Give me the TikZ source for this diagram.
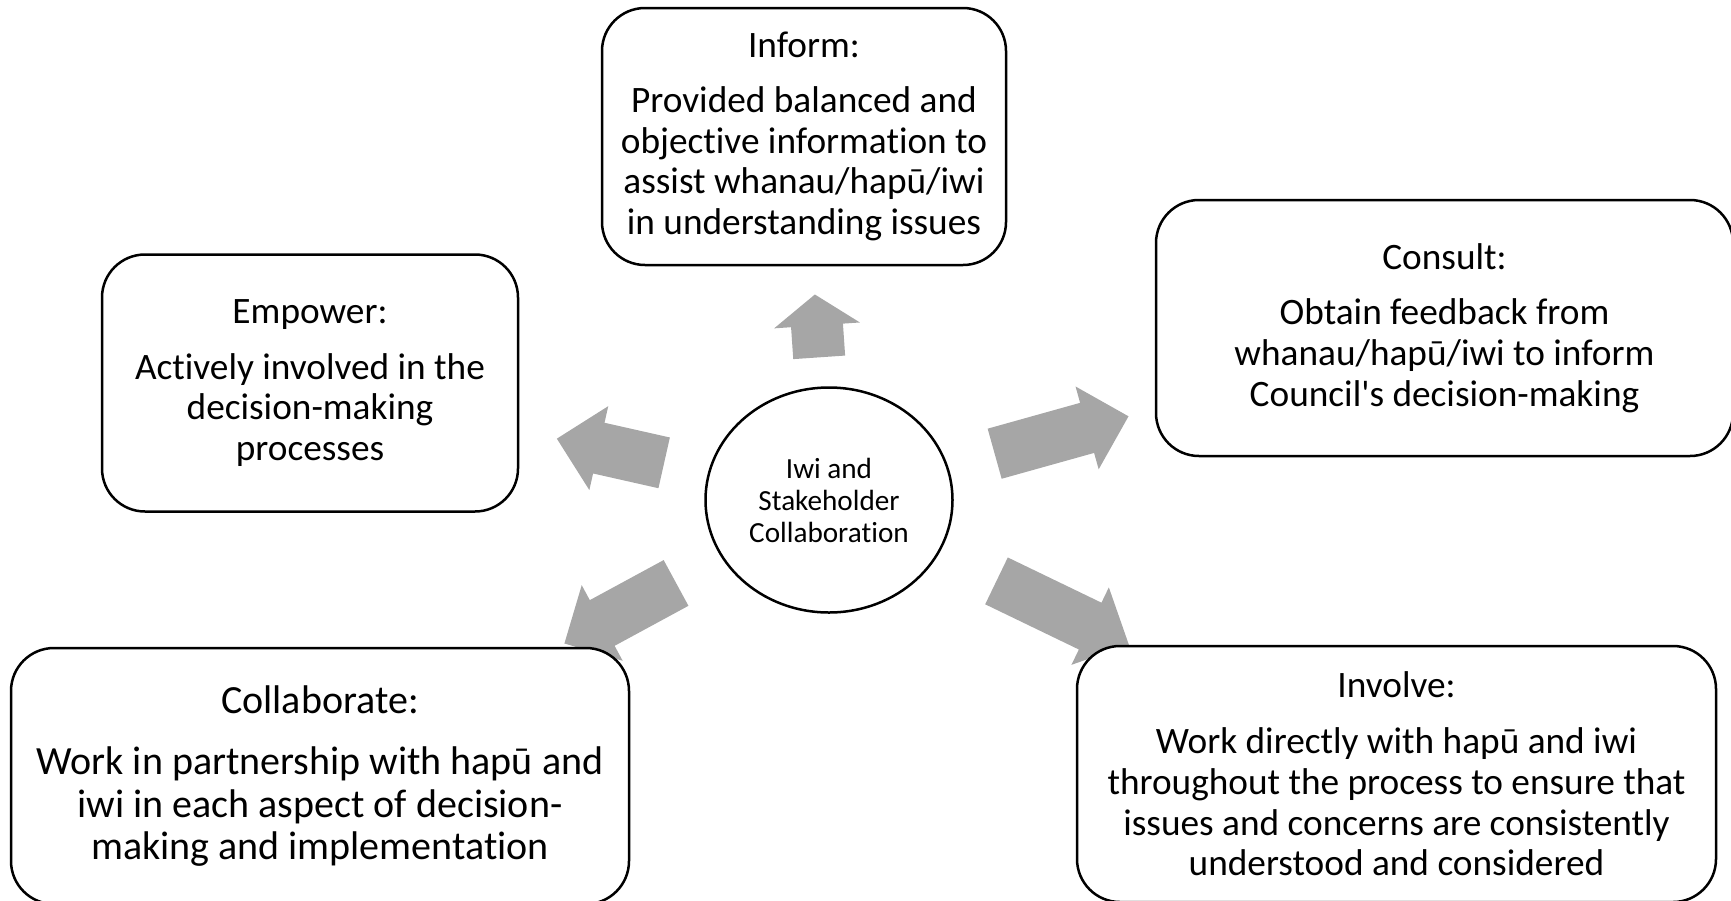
\documentclass[tikz,border=0pt]{standalone}
\usepackage{fontspec}
\setmainfont{Carlito}[Ligatures={TeXOff,NoCommon}]
\usetikzlibrary{calc,backgrounds,shapes.geometric}
\newcommand\bodyfont{\fontsize{37.3pt}{40.8pt}\selectfont}
\newcommand\bigbodyfont{\fontsize{40pt}{42.5pt}\selectfont}
\newcommand\hubfont{\fontsize{29.2pt}{32pt}\selectfont}
\definecolor{arrowgray}{HTML}{A6A6A6}
% block arrow: #1 rear centre, #2 tip, #3 head length
\newcommand{\blockarrow}[3]{%
  \coordinate (hb) at ($(#2)!#3!(#1)$);
  \fill[arrowfill] ($(#1)!26pt!90:(#2)$) -- ($(hb)!26pt!-90:(#1)$) -- ($(hb)!43pt!-90:(#1)$) -- (#2)
    -- ($(hb)!43pt!90:(#1)$) -- ($(hb)!26pt!90:(#1)$) -- ($(#1)!26pt!-90:(#2)$) -- cycle;
}
\begin{document}
\begin{tikzpicture}[x=1pt,y=-1pt,
  box/.style={draw=black, line width=2.5pt, fill=white, rounded corners=43pt,
    align=center, font=\bodyfont, inner sep=0pt},
  hub/.style={draw=black, line width=2.5pt, fill=white, ellipse, minimum width=247pt,
    minimum height=225pt, inner sep=0pt, align=center, font=\hubfont},
  arrowfill/.style={fill=arrowgray}]
\useasboundingbox (0,0) rectangle (1731,900);
\node[hub] (c) at (829,500) {Iwi and\\Stakeholder\\Collaboration};
\node[box, minimum width=404pt, minimum height=257pt] (inform) at (804,136.5)
  {Inform:\\[14pt]Provided balanced and\\objective information to\\assist whanau/hapū/iwi\\in understanding issues};
\node[box, minimum width=577pt, minimum height=256pt] (consult) at (1444.5,328)
  {Consult:\\[15pt]Obtain feedback from\\whanau/hapū/iwi to inform\\Council's decision-making};
\node[box, minimum width=416pt, minimum height=257pt] (empower) at (310,383)
  {Empower:\\[15pt]Actively involved in the\\decision-making\\processes};
\node[box, font=\bigbodyfont, minimum width=618pt, minimum height=256pt] (collab) at (320,776)
  {Collaborate:\\[19pt]Work in partnership with hapū and\\iwi in each aspect of decision-\\making and implementation};
\node[box, minimum width=639pt, minimum height=256pt] (involve) at (1396.5,774)
  {Involve:\\[15pt]Work directly with hapū and iwi\\throughout the process to ensure that\\issues and concerns are consistently\\understood and considered};
\begin{scope}[on background layer]
  \coordinate (r1) at ($(c.center)!143pt!(inform.center)$);
  \coordinate (t1) at ($(c.center)!206pt!(inform.center)$);
  \blockarrow{r1}{t1}{31pt}
  \coordinate (r2) at ($(c.center)!172pt!(consult.center)$);
  \coordinate (t2) at ($(c.center)!311pt!(consult.center)$);
  \blockarrow{r2}{t2}{43pt}
  \coordinate (r3) at ($(c.center)!169pt!(empower.center)$);
  \coordinate (t3) at ($(c.center)!279pt!(empower.center)$);
  \blockarrow{r3}{t3}{43pt}
  \coordinate (r4) at ($(c.center)!174pt!(collab.center)$);
  \coordinate (t4) at ($(c.center)!301pt!(collab.center)$);
  \blockarrow{r4}{t4}{43pt}
  \coordinate (r5) at ($(c.center)!186pt!(involve.center)$);
  \coordinate (t5) at ($(c.center)!333pt!(involve.center)$);
  \blockarrow{r5}{t5}{43pt}
\end{scope}
\end{tikzpicture}
\end{document}
